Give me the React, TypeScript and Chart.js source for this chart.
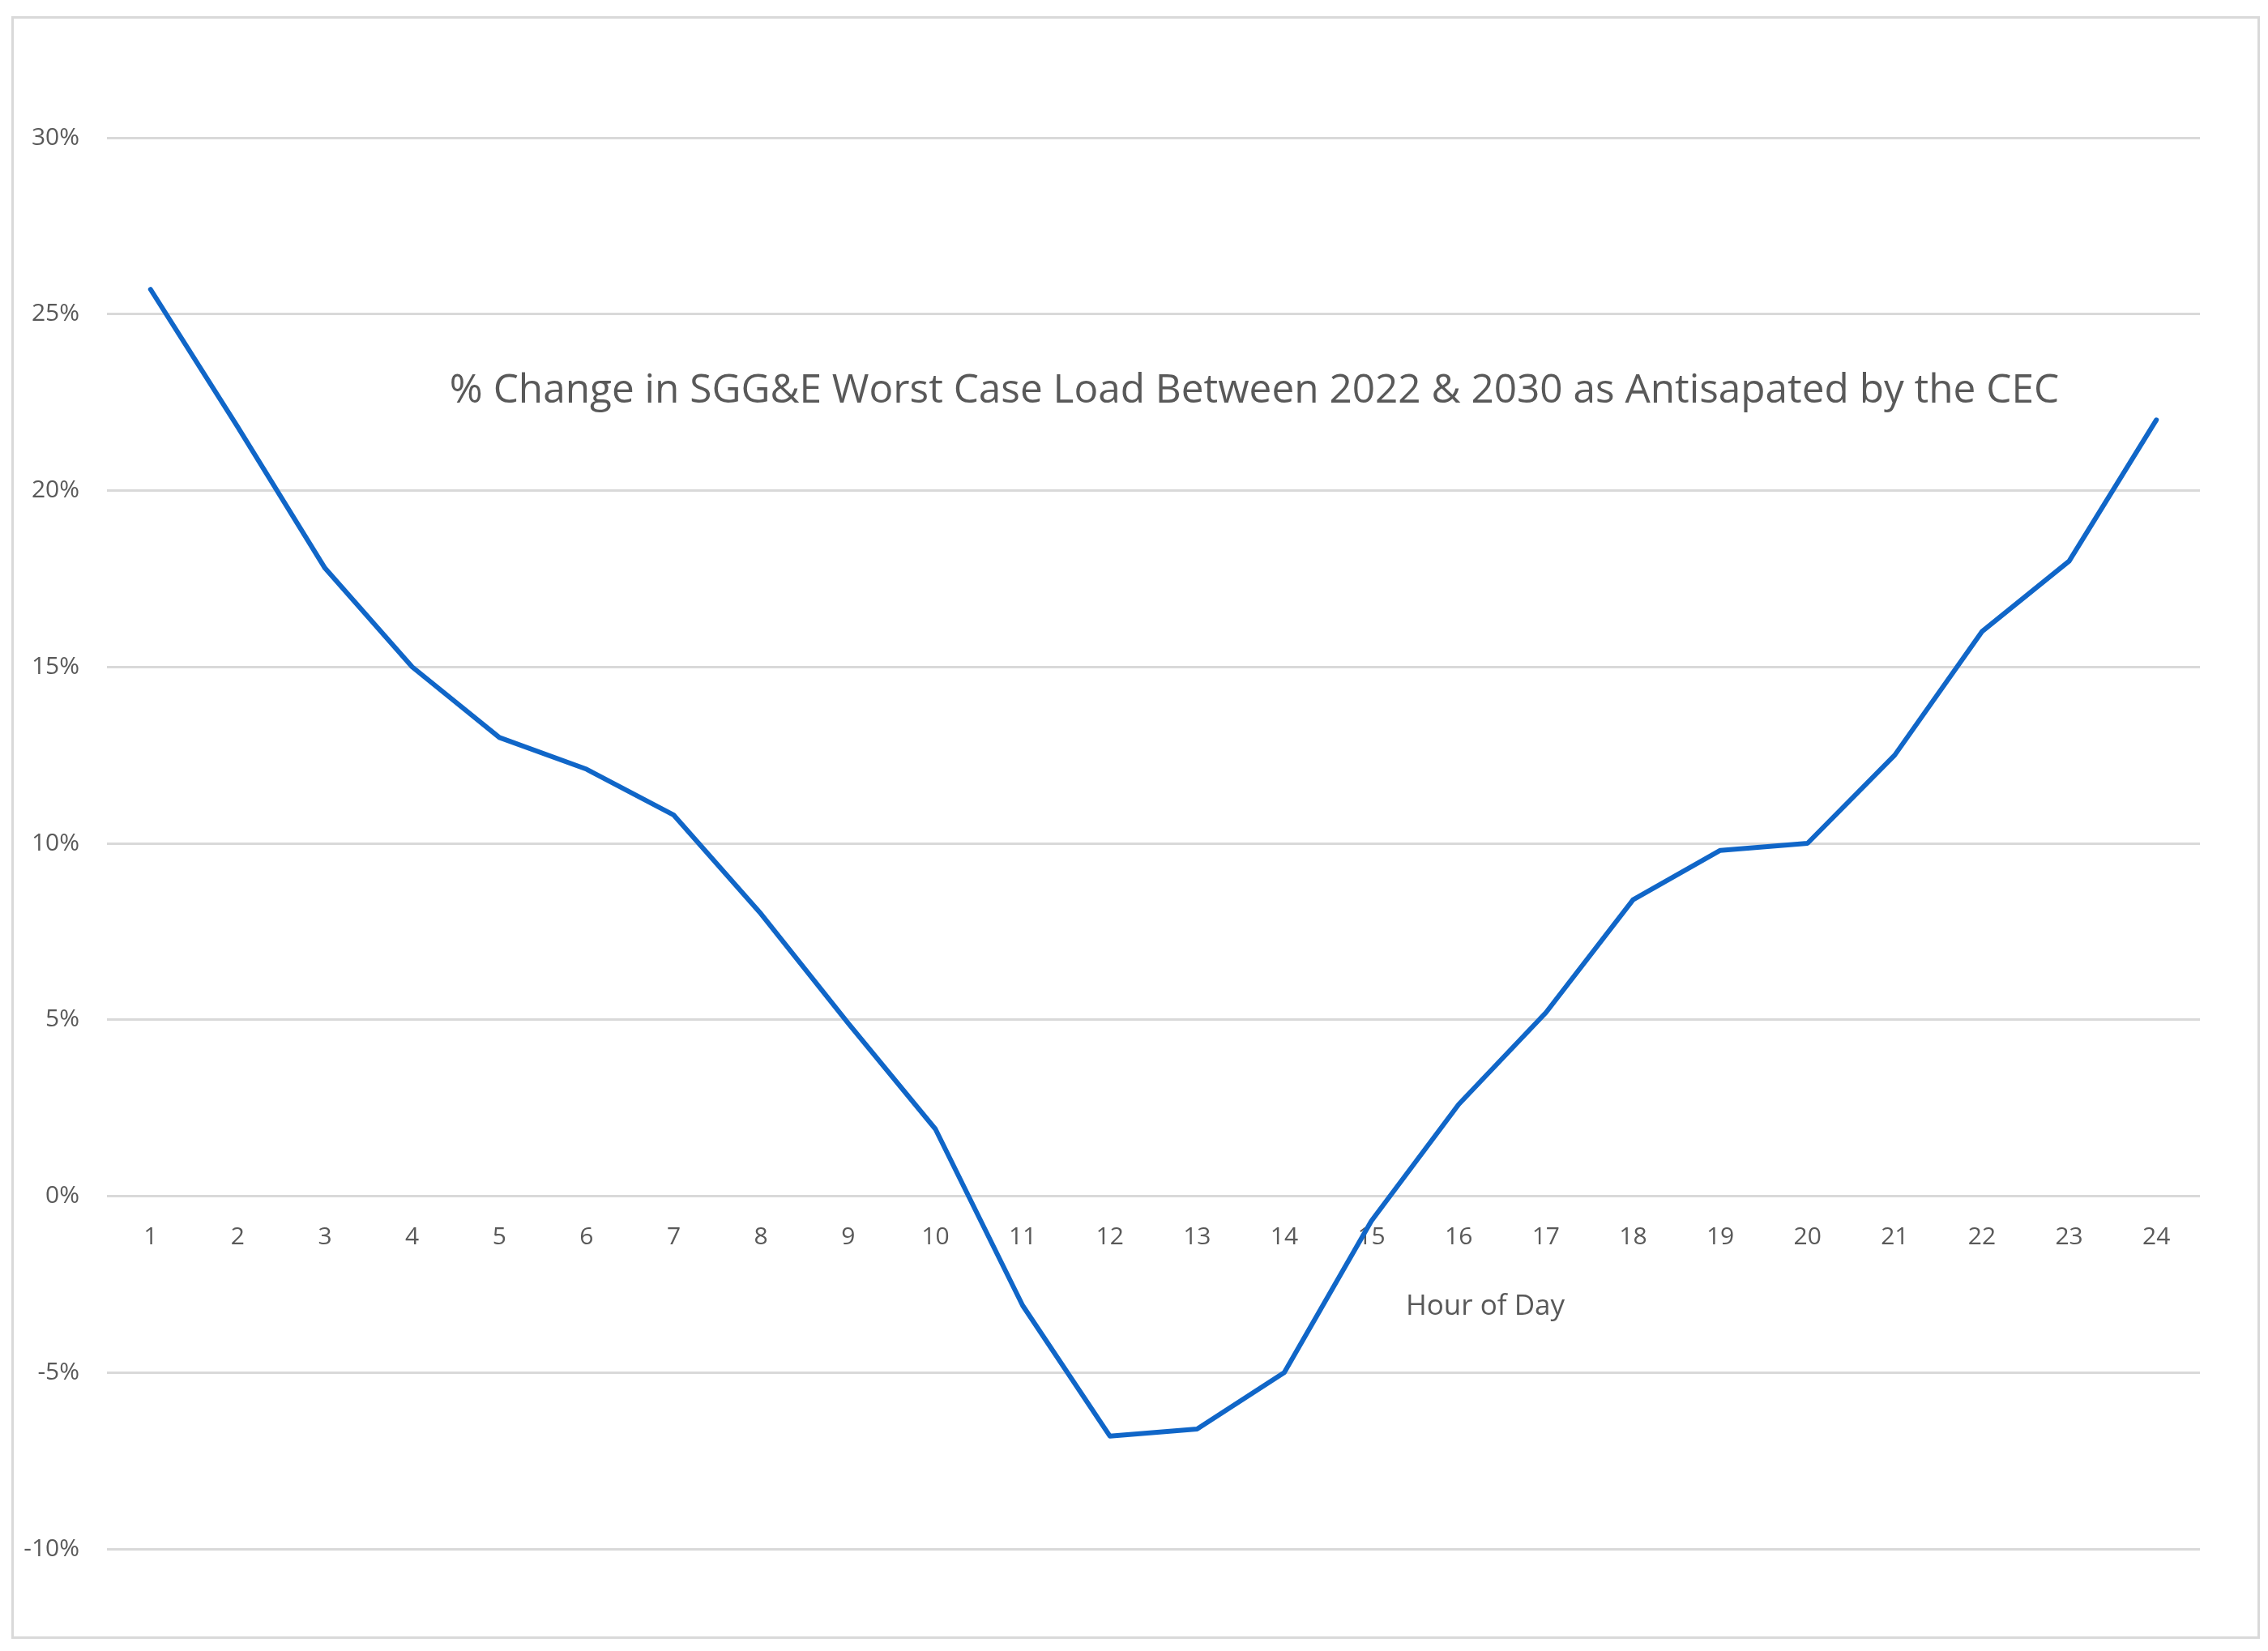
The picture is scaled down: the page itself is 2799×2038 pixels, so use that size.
import React, { useEffect, useRef } from "react";
import { Chart, registerables } from "chart.js";

Chart.register(...registerables);

// ---- Data ----
const hours = ["1", "2", "3", "4", "5", "6", "7", "8", "9", "10", "11", "12", "13", "14", "15", "16", "17", "18", "19", "20", "21", "22", "23", "24"];
const pctChange = [25.7, 21.8, 17.8, 15.0, 13.0, 12.1, 10.8, 8.0, 4.9, 1.9, -3.1, -6.8, -6.6, -5.0, -0.7, 2.6, 5.2, 8.4, 9.8, 10.0, 12.5, 16.0, 18.0, 22.0];
const yMin = -10;
const yMax = 30;
const yStep = 5;
const chartTitle = "% Change in SGG&E Worst Case Load Between 2022 & 2030 as Antisapated by the CEC";
const xAxisTitle = "Hour of Day";

const W = 2799;
const H = 2038;
const TEXT = "#595959";
const FONT = '"Open Sans", "Noto Sans", sans-serif';

const textPlugin = {
  id: "chartTexts",
  afterDraw(chart: any) {
    const { ctx } = chart;
    ctx.save();
    ctx.fillStyle = TEXT;
    ctx.textAlign = "center";
    ctx.textBaseline = "alphabetic";
    ctx.font = `49.5px ${FONT}`;
    ctx.fillText(chartTitle, 1548, 497);
    ctx.font = `35px ${FONT}`;
    ctx.fillText(xAxisTitle, 1833, 1623);
    ctx.restore();
  },
};

export default function App() {
  const ref = useRef<HTMLCanvasElement | null>(null);

  useEffect(() => {
    if (!ref.current) return;
    const chart = new Chart(ref.current, {
      type: "line",
      data: {
        labels: hours,
        datasets: [
          {
            data: pctChange,
            borderColor: "#1066c8",
            borderWidth: 6,
            pointRadius: 0,
            tension: 0,
            fill: false,
            borderJoinStyle: "round",
            borderCapStyle: "round",
          },
        ],
      },
      options: {
        animation: false,
        responsive: false,
        devicePixelRatio: 1,
        layout: { padding: { left: 0, right: 84, top: 170, bottom: 126 } },
        plugins: {
          legend: { display: false },
          tooltip: { enabled: false },
          title: { display: false },
        },
        scales: {
          x: {
            type: "category",
            position: { y: 0 } as any,
            offset: true,
            grid: { display: false, drawTicks: false },
            border: { display: false },
            ticks: {
              autoSkip: false,
              maxRotation: 0,
              padding: 33,
              color: TEXT,
              font: { family: FONT, size: 30 },
            },
          },
          y: {
            min: yMin,
            max: yMax,
            grid: { color: "#d9d9d9", lineWidth: 3, drawTicks: false },
            border: { display: false },
            ticks: {
              stepSize: yStep,
              padding: 34,
              color: TEXT,
              font: { family: FONT, size: 30 },
              callback: (v: any) => `${v}%`,
            },
            afterFit: (scale: any) => {
              scale.width = 132;
            },
          },
        },
      },
      plugins: [textPlugin],
    });
    return () => chart.destroy();
  }, []);

  return (
    <div style={{ position: "fixed", left: 0, top: 0, width: W, height: H, background: "#ffffff" }}>
      <div
        style={{
          position: "absolute",
          left: 14,
          top: 20,
          width: 2775,
          height: 2003,
          border: "3px solid #d9d9d9",
          boxSizing: "border-box",
        }}
      />
      <canvas ref={ref} width={W} height={H} style={{ position: "absolute", left: 0, top: 0, width: W, height: H }} />
    </div>
  );
}
